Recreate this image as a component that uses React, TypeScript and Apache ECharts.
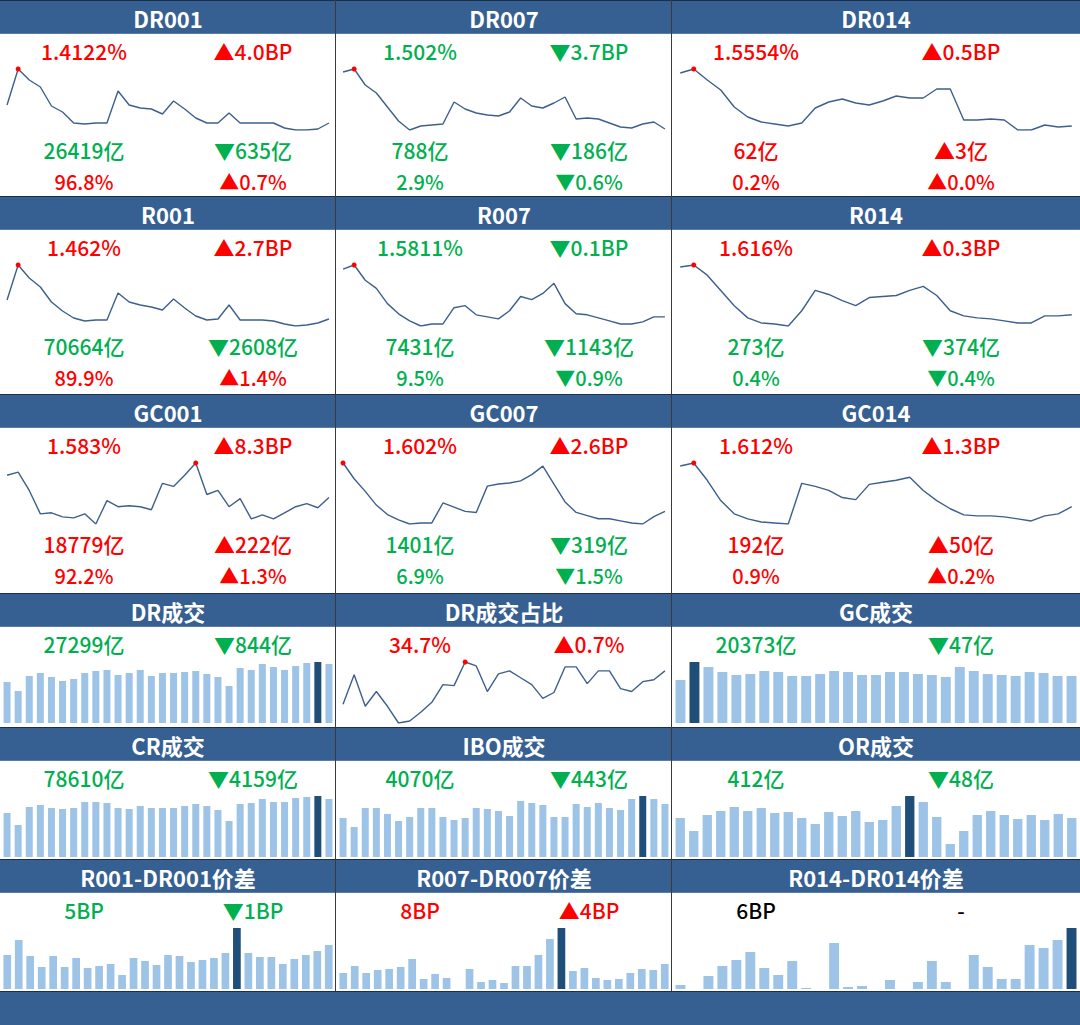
import React, { useEffect, useRef } from "react";
import * as echarts from "echarts";

// ---------- text data ----------
const rateTitles = ["DR001", "DR007", "DR014", "R001", "R007", "R014", "GC001", "GC007", "GC014"];
const rateNow = ["1.4122%", "1.502%", "1.5554%", "1.462%", "1.5811%", "1.616%", "1.583%", "1.602%", "1.612%"];
const rateChg = ["▲4.0BP", "▼3.7BP", "▲0.5BP", "▲2.7BP", "▼0.1BP", "▲0.3BP", "▲8.3BP", "▲2.6BP", "▲1.3BP"];
const volNow = ["26419亿", "788亿", "62亿", "70664亿", "7431亿", "273亿", "18779亿", "1401亿", "192亿"];
const volChg = ["▼635亿", "▼186亿", "▲3亿", "▼2608亿", "▼1143亿", "▼374亿", "▲222亿", "▼319亿", "▲50亿"];
const shareNow = ["96.8%", "2.9%", "0.2%", "89.9%", "9.5%", "0.4%", "92.2%", "6.9%", "0.9%"];
const shareChg = ["▲0.7%", "▼0.6%", "▲0.0%", "▲1.4%", "▼0.9%", "▼0.4%", "▲1.3%", "▼1.5%", "▲0.2%"];

const lowTitles = ["DR成交", "DR成交占比", "GC成交", "CR成交", "IBO成交", "OR成交", "R001-DR001价差", "R007-DR007价差", "R014-DR014价差"];
const lowNow = ["27299亿", "34.7%", "20373亿", "78610亿", "4070亿", "412亿", "5BP", "8BP", "6BP"];
const lowChg = ["▼844亿", "▲0.7%", "▼47亿", "▼4159亿", "▼443亿", "▼48亿", "▼1BP", "▲4BP", "-"];
const lowKind = ["bar", "line", "bar", "bar", "bar", "bar", "bar", "bar", "bar"];

// ---------- series data (relative levels read from the sparklines) ----------
const dr001 = [25, 61, 50, 43, 24, 18, 7, 6, 7, 7, 39, 25, 22, 21, 16, 29, 21, 12, 7, 7, 17, 7, 7, 7, 7, 2, 0, 0, 1, 7];
const dr007 = [58, 61, 45, 37, 23, 9, 0, 4, 5, 6, 28, 21, 17, 15, 14, 18, 32, 24, 22, 27, 33, 11, 12, 11, 7, 3, 2, 6, 8, 1];
const dr014 = [57, 61, 50, 40, 23, 13, 8, 6, 4, 7, 22, 28, 31, 27, 25, 29, 34, 32, 32, 41, 41, 10, 10, 11, 10, 0, 0, 5, 3, 4];
const r001 = [26, 61, 48, 39, 24, 15, 8, 5, 6, 6, 33, 24, 21, 19, 16, 27, 18, 10, 6, 7, 21, 6, 6, 6, 5, 2, 0, 1, 3, 7];
const r007 = [57, 61, 46, 38, 23, 13, 6, 1, 3, 3, 19, 21, 12, 10, 8, 16, 30, 27, 33, 43, 23, 13, 12, 9, 6, 3, 3, 5, 10, 10];
const r014 = [59, 61, 51, 36, 21, 9, 4, 3, 1, 16, 36, 32, 26, 21, 29, 30, 31, 36, 40, 31, 16, 11, 9, 8, 6, 4, 4, 11, 11, 12];
const gc001 = [49, 52, 34, 11, 12, 8, 7, 11, 1, 24, 18, 19, 18, 15, 41, 38, 49, 61, 30, 34, 18, 26, 6, 10, 6, 12, 18, 21, 17, 27];
const gc007 = [61, 46, 34, 21, 12, 7, 3, 4, 4, 23, 19, 15, 14, 39, 41, 42, 44, 50, 58, 41, 24, 14, 11, 8, 8, 6, 4, 3, 10, 15];
const gc014 = [58, 61, 44, 24, 11, 6, 3, 2, 1, 41, 38, 34, 27, 25, 40, 42, 44, 47, 34, 24, 16, 10, 9, 9, 8, 6, 4, 9, 11, 18];

const drVolume = [41, 32, 47, 50, 46, 42, 44, 50, 52, 53, 48, 50, 53, 47, 50, 50, 51, 52, 49, 46, 37, 55, 53, 59, 56, 53, 57, 60, 61, 59];
const drShare = [19, 49, 17, 32, 17, 0, 2, 11, 21, 39, 38, 62, 58, 32, 50, 53, 46, 39, 25, 31, 57, 57, 40, 53, 53, 35, 32, 42, 44, 53];
const gcVolume = [43, 61, 56, 51, 48, 49, 52, 51, 47, 47, 49, 52, 51, 48, 48, 51, 51, 49, 48, 46, 56, 52, 49, 48, 47, 51, 50, 47, 47];
const crVolume = [44, 32, 50, 52, 49, 48, 49, 55, 55, 54, 49, 48, 51, 49, 49, 49, 51, 53, 51, 47, 36, 53, 54, 58, 55, 55, 59, 60, 61, 58];
const iboVolume = [39, 30, 49, 49, 43, 36, 40, 49, 49, 40, 37, 39, 49, 48, 46, 41, 56, 54, 52, 40, 40, 53, 50, 54, 49, 47, 58, 61, 58, 53];
const orVolume = [39, 26, 42, 46, 50, 46, 49, 44, 45, 39, 33, 45, 41, 46, 35, 37, 51, 61, 55, 40, 13, 26, 42, 46, 42, 38, 42, 37, 43, 39];
const spread001 = [34, 49, 33, 22, 33, 22, 31, 21, 23, 25, 14, 31, 28, 24, 34, 33, 27, 29, 31, 36, 61, 36, 32, 32, 25, 30, 34, 38, 44];
const spread007 = [16, 23, 16, 19, 20, 22, 30, 10, 15, 11, 0, 20, 7, 9, 6, 23, 23, 34, 50, 61, 18, 21, 11, 9, 10, 16, 20, 19, 25];
const spread014 = [4, 0, 13, 23, 29, 37, 21, 14, 28, 1, 0, 46, 2, 3, 0, 9, 0, 7, 28, 7, 0, 34, 22, 10, 10, 44, 41, 49, 61];

const rateSeries = [dr001, dr007, dr014, r001, r007, r014, gc001, gc007, gc014];
const lowSeries = [drVolume, drShare, gcVolume, crVolume, iboVolume, orVolume, spread001, spread007, spread014];

// ---------- layout / style ----------
const COLS = [0, 336, 672];
const COL_W = [336, 336, 408];
const HEADER_TOPS = [0, 196, 394, 593, 727, 859];
const FOOTER_TOP = 991;
const HEADER_H = 34;
const HEADER_BG = "#366092";
const LINE_C = "#3d5f8c";
const BAR_LIGHT = "#9dc3e6";
const BAR_DARK = "#1f4e79";
const RED = "#ff0000";
const GREEN = "#00b050";
const BLACK = "#000000";
const FONT = '"Noto Sans CJK SC", "Noto Sans", sans-serif';

function colorOf(chg: string) {
  if (chg.startsWith("▲")) return RED;
  if (chg.startsWith("▼")) return GREEN;
  return BLACK;
}

function textEl(text: string, x: number, y: number, fill: string, size: number, weight: any = 500) {
  return {
    type: "text",
    x,
    y,
    z: 20,
    silent: true,
    style: {
      text,
      fill,
      fontSize: size,
      fontFamily: FONT,
      fontWeight: weight,
      textAlign: "center",
      textVerticalAlign: "middle",
      align: "center",
      verticalAlign: "middle",
    },
  };
}

export default function App() {
  const ref = useRef<HTMLDivElement>(null);

  useEffect(() => {
    document.body.style.margin = "0";
    const chart = echarts.init(ref.current!, null, { renderer: "svg", width: 1080, height: 1025 });

    const grids: any[] = [];
    const xAxes: any[] = [];
    const yAxes: any[] = [];
    const series: any[] = [];
    const graphics: any[] = [];

    const addPanel = (col: number, headerTop: number, kind: string, data: number[]) => {
      const i = grids.length;
      grids.push({ left: COLS[col] + 1.5, top: headerTop + 69, width: COL_W[col] - 3, height: 61 });
      xAxes.push({
        type: "category",
        gridIndex: i,
        show: false,
        boundaryGap: true,
        data: data.map((_, k) => String(k + 1)),
      });
      yAxes.push({
        type: "value",
        gridIndex: i,
        show: false,
        min: kind === "bar" ? 0 : "dataMin",
        max: "dataMax",
      });
      if (kind === "line") {
        series.push({
          type: "line",
          xAxisIndex: i,
          yAxisIndex: i,
          data,
          symbol: "none",
          silent: true,
          lineStyle: { color: LINE_C, width: 1.4 },
          markPoint: {
            symbol: "circle",
            symbolSize: 5,
            silent: true,
            label: { show: false },
            itemStyle: { color: RED },
            data: [{ type: "max" }],
          },
        });
      } else {
        const mx = Math.max(...data);
        const mi = data.indexOf(mx);
        const n = data.length;
        const gap = col === 2 ? (n >= 30 ? "31%" : "29%") : n >= 30 ? "37%" : "33%";
        series.push({
          type: "bar",
          xAxisIndex: i,
          yAxisIndex: i,
          silent: true,
          barCategoryGap: gap,
          itemStyle: { color: BAR_LIGHT },
          data: data.map((v, k) => (k === mi ? { value: v, itemStyle: { color: BAR_DARK } } : v)),
        });
      }
    };

    // header bands
    HEADER_TOPS.forEach((t) => {
      graphics.push({ type: "rect", z: 5, silent: true, shape: { x: 0, y: t, width: 1080, height: HEADER_H }, style: { fill: HEADER_BG } });
      graphics.push({ type: "line", z: 6, silent: true, shape: { x1: 0, y1: t + 0.5, x2: 1080, y2: t + 0.5 }, style: { stroke: "#1c2f4a", lineWidth: 1 } });
      graphics.push({ type: "line", z: 6, silent: true, shape: { x1: 0, y1: t + HEADER_H - 0.5, x2: 1080, y2: t + HEADER_H - 0.5 }, style: { stroke: "#5a7ba6", lineWidth: 1 } });
    });
    graphics.push({ type: "rect", z: 5, silent: true, shape: { x: 0, y: FOOTER_TOP, width: 1080, height: 1025 - FOOTER_TOP }, style: { fill: HEADER_BG } });
    graphics.push({ type: "line", z: 6, silent: true, shape: { x1: 0, y1: FOOTER_TOP + 0.5, x2: 1080, y2: FOOTER_TOP + 0.5 }, style: { stroke: "#1c2f4a", lineWidth: 1 } });

    // column separators
    [335.5, 671.5].forEach((x) => {
      graphics.push({ type: "line", z: 7, silent: true, shape: { x1: x, y1: 0, x2: x, y2: FOOTER_TOP }, style: { stroke: "#3a3a3a", lineWidth: 1 } });
    });

    const rightOff = [253, 253, 289];

    // rate panels
    rateTitles.forEach((title, idx) => {
      const col = idx % 3;
      const row = Math.floor(idx / 3);
      const top = HEADER_TOPS[row];
      const cx = COLS[col] + COL_W[col] / 2;
      const lx = COLS[col] + 84;
      const rx = COLS[col] + rightOff[col];
      graphics.push(textEl(title, cx, top + 17.5, "#ffffff", 22, "bold"));
      graphics.push(textEl(rateNow[idx], lx, top + 51, colorOf(rateChg[idx]), 21));
      graphics.push(textEl(rateChg[idx], rx, top + 51, colorOf(rateChg[idx]), 21));
      graphics.push(textEl(volNow[idx], lx, top + 150, colorOf(volChg[idx]), 21));
      graphics.push(textEl(volChg[idx], rx, top + 150, colorOf(volChg[idx]), 21));
      graphics.push(textEl(shareNow[idx], lx, top + 181, colorOf(shareChg[idx]), 20));
      graphics.push(textEl(shareChg[idx], rx, top + 181, colorOf(shareChg[idx]), 20));
      addPanel(col, top, "line", rateSeries[idx]);
    });

    // lower panels
    lowTitles.forEach((title, idx) => {
      const col = idx % 3;
      const row = 3 + Math.floor(idx / 3);
      const top = HEADER_TOPS[row];
      const cx = COLS[col] + COL_W[col] / 2;
      const lx = COLS[col] + 84;
      const rx = COLS[col] + rightOff[col];
      graphics.push(textEl(title, cx, top + 17.5, "#ffffff", 22, "bold"));
      graphics.push(textEl(lowNow[idx], lx, top + 51, colorOf(lowChg[idx]), 21));
      graphics.push(textEl(lowChg[idx], rx, top + 51, colorOf(lowChg[idx]), 21));
      addPanel(col, top, lowKind[idx], lowSeries[idx]);
    });

    chart.setOption({
      animation: false,
      backgroundColor: "#ffffff",
      grid: grids,
      xAxis: xAxes,
      yAxis: yAxes,
      series,
      graphic: { elements: graphics },
    });

    return () => chart.dispose();
  }, []);

  return <div ref={ref} style={{ position: "absolute", left: 0, top: 0, width: 1080, height: 1025 }} />;
}
